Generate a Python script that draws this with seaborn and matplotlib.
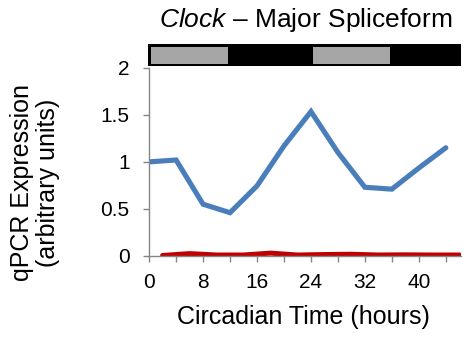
import matplotlib
matplotlib.use("Agg")
import matplotlib.pyplot as plt
import matplotlib.patches as mpatches
import seaborn as sns
import pandas as pd

sns.set_theme(style="white")
plt.rcParams["font.family"] = ["Liberation Sans", "DejaVu Sans"]
plt.rcParams["mathtext.fontset"] = "custom"
plt.rcParams["mathtext.rm"] = "Liberation Sans"
plt.rcParams["mathtext.it"] = "Liberation Sans:italic"

# Major spliceform (blue) sampled every 4 h from CT0
major_ct = [0, 4, 8, 12, 16, 20, 24, 28, 32, 36, 40, 44]
major_expr = [1.00, 1.02, 0.55, 0.46, 0.745, 1.17, 1.535, 1.10, 0.73, 0.71, 0.935, 1.15]

# Second series (red) sampled every 4 h from CT2
minor_ct = [2, 6, 10, 14, 18, 22, 26, 30, 34, 38, 42, 46]
minor_expr = [0.005, 0.025, 0.01, 0.01, 0.03, 0.01, 0.015, 0.018, 0.01, 0.012, 0.01, 0.01]

# Light (gray) / dark (black) phases, in hours
light_phases = [(0, 12), (24, 36)]
x_ticks = [0, 8, 16, 24, 32, 40]
y_ticks = [0, 0.5, 1, 1.5, 2]

major = pd.DataFrame({"ct": major_ct, "expr": major_expr})
minor = pd.DataFrame({"ct": minor_ct, "expr": minor_expr})

fig = plt.figure(figsize=(4.66, 3.39), dpi=100)
ax = fig.add_axes([0.32, 0.245, 0.67, 0.555])
sns.lineplot(data=major, x="ct", y="expr", ax=ax, color="#4a7ebb", linewidth=3.7,
             solid_capstyle="round", solid_joinstyle="miter")
sns.lineplot(data=minor, x="ct", y="expr", ax=ax, color="#c00000", linewidth=3.6,
             solid_capstyle="round")

xmax = 46.3
ax.set_xlim(0, xmax)
ax.set_ylim(0, 2)
ax.set_xticks(range(0, 45, 4))
ax.set_xticklabels([str(t) if t in x_ticks else "" for t in range(0, 45, 4)])
ax.set_yticks(y_ticks)
ax.set_yticklabels(["0", "0.5", "1", "1.5", "2"])
for s in ["top", "right"]:
    ax.spines[s].set_visible(False)
for s in ["left", "bottom"]:
    ax.spines[s].set_color("#868686")
    ax.spines[s].set_linewidth(1.0)
ax.tick_params(axis="both", which="both", direction="out", length=4, width=1,
               color="#868686", labelsize=15, labelcolor="black",
               bottom=True, left=True)
ax.tick_params(axis="y", pad=10)
ax.tick_params(axis="x", pad=8)

ax.set_xlabel("Circadian Time (hours)", fontsize=18, color="black")
ax.xaxis.label.set_va("center")
ax.xaxis.set_label_coords(0.495, -0.325)
ax.set_ylabel("qPCR Expression\n(arbitrary units)", fontsize=18, color="black",
              linespacing=1.1)
ax.yaxis.label.set_va("center")
ax.yaxis.set_label_coords(-0.365, 0.39)

# Light/dark bar above the plot
bar = fig.add_axes([0.318, 0.805, 0.672, 0.066])
bar.set_xlim(0, xmax)
bar.set_ylim(0, 1)
bar.add_patch(mpatches.Rectangle((0, 0), xmax, 1, color="black"))
for start, end in light_phases:
    bar.add_patch(mpatches.Rectangle((start + 0.35, 0.1), end - start - 0.6, 0.76,
                                     facecolor="#a6a6a6", edgecolor="none"))
bar.axis("off")

fig.text(0.655, 0.942, r"$\it{Clock}$ – Major Spliceform", ha="center", va="center",
         fontsize=19, color="black")

fig.savefig("out.png", dpi=100)
